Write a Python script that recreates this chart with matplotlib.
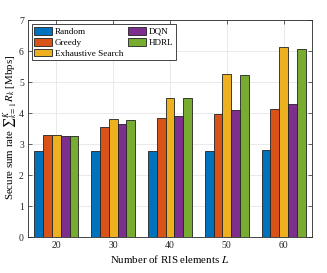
import numpy as np
import matplotlib.pyplot as plt

plt.rcParams['font.family'] = ['Liberation Serif', 'DejaVu Serif']
plt.rcParams['mathtext.fontset'] = 'stix'

ris_elements = ["20", "30", "40", "50", "60"]
methods = ["Random", "Greedy", "Exhaustive Search", "DQN", "HDRL"]
random_rate = [2.80, 2.78, 2.80, 2.78, 2.82]
greedy_rate = [3.30, 3.57, 3.85, 3.97, 4.13]
exhaustive_rate = [3.30, 3.81, 4.50, 5.26, 6.13]
dqn_rate = [3.28, 3.65, 3.92, 4.11, 4.29]
hdrl_rate = [3.28, 3.80, 4.48, 5.22, 6.09]
colors = ["#0072BD", "#D95319", "#EDB120", "#7E2F8E", "#77AC30"]

series = [random_rate, greedy_rate, exhaustive_rate, dqn_rate, hdrl_rate]

fig = plt.figure(figsize=(3.27, 2.73), dpi=100)
ax = fig.add_axes([28 / 327, 1 - 237.3 / 273, (312 - 28) / 327, (237.3 - 20.3) / 273])

x = np.arange(len(ris_elements))
w = 0.155
for i, (vals, name, c) in enumerate(zip(series, methods, colors)):
    ax.bar(x + (i - 2) * w, vals, w, color=c, edgecolor="#222222",
           linewidth=0.6, label=name, zorder=3)

ax.set_xlim(-0.5, 4.5)
ax.set_ylim(0, 7)
ax.set_xticks(x)
ax.set_xticklabels(ris_elements)
ax.set_yticks(range(8))
ax.grid(True, color="#e6e6e6", linewidth=0.6, zorder=0)
ax.tick_params(direction="in", length=3, width=0.5, labelsize=7,
               top=True, right=True, colors="#262626", pad=3)
for s in ax.spines.values():
    s.set_linewidth(0.6)
    s.set_color("#262626")

ax.set_xlabel("Number of RIS elements $L$", fontsize=7.8, labelpad=2)
# empty group so the limits sit to the right of the sum sign
ax.set_ylabel(r"Secure sum rate $\sum{}_{k=1}^{K}\, R_k$ [Mbps]", fontsize=7.8)
ax.yaxis.set_label_coords(-0.033, 0.505)

leg = ax.legend(ncol=2, loc="upper left", fontsize=6.6, fancybox=False,
                edgecolor="#262626", framealpha=1, handlelength=1.9,
                handleheight=0.95, labelspacing=0.2, columnspacing=0.6,
                handletextpad=0.3, borderpad=0.3, borderaxespad=0.4)
leg.get_frame().set_linewidth(0.6)

fig.savefig("out.png", dpi=100)
